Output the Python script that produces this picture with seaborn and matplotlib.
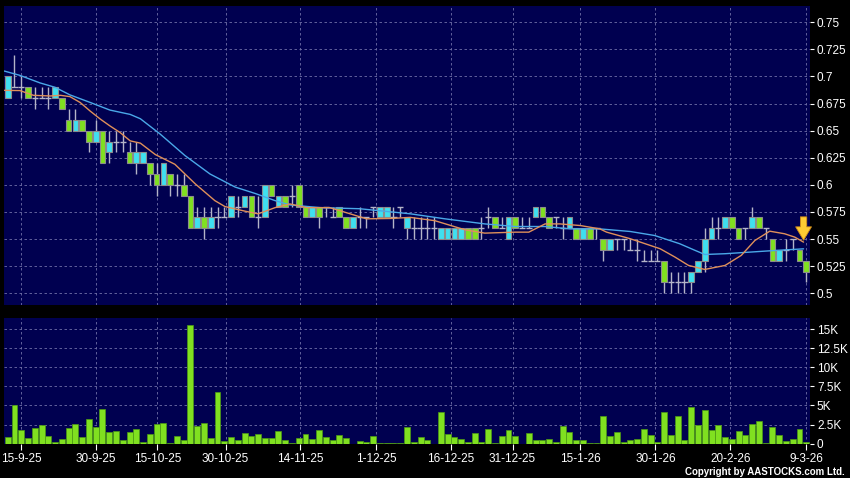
import numpy as np
import pandas as pd
import matplotlib
matplotlib.use('Agg')
import matplotlib.pyplot as plt
import seaborn as sns

# ---- data (bar index 0 = 11-9-25) ----
opens = [
    0.68, 0.69, 0.69, 0.69, 0.68, 0.68, 0.68, 0.68, 0.68, 0.66,
    0.65, 0.66, 0.65, 0.64, 0.65, 0.63, 0.64, 0.64, 0.63, 0.62,
    0.62, 0.62, 0.61, 0.60, 0.61, 0.60, 0.60, 0.59, 0.56, 0.57,
    0.56, 0.57, 0.57, 0.57, 0.58, 0.58, 0.59, 0.57, 0.57, 0.60,
    0.58, 0.59, 0.59, 0.60, 0.58, 0.57, 0.58, 0.58, 0.57, 0.58,
    0.57, 0.56, 0.57, 0.57, 0.58, 0.57, 0.57, 0.57, 0.58, 0.56,
    0.56, 0.56, 0.56, 0.56, 0.55, 0.55, 0.55, 0.55, 0.56, 0.56,
    0.56, 0.57, 0.57, 0.56, 0.55, 0.57, 0.56, 0.56, 0.57, 0.58,
    0.57, 0.57, 0.56, 0.56, 0.56, 0.55, 0.56, 0.56, 0.55, 0.54,
    0.55, 0.55, 0.54, 0.54, 0.53, 0.53, 0.53, 0.53, 0.51, 0.51,
    0.51, 0.51, 0.52, 0.53, 0.55, 0.56, 0.56, 0.57, 0.56, 0.56,
    0.56, 0.57, 0.56, 0.55, 0.53, 0.54, 0.55, 0.54, 0.53,
]
closes = [
    0.70, 0.69, 0.69, 0.68, 0.68, 0.68, 0.68, 0.69, 0.67, 0.65,
    0.66, 0.65, 0.64, 0.65, 0.62, 0.64, 0.64, 0.64, 0.62, 0.63,
    0.63, 0.61, 0.60, 0.62, 0.60, 0.60, 0.59, 0.56, 0.57, 0.56,
    0.57, 0.57, 0.57, 0.59, 0.58, 0.59, 0.57, 0.57, 0.60, 0.59,
    0.59, 0.58, 0.59, 0.58, 0.57, 0.58, 0.57, 0.58, 0.57, 0.57,
    0.56, 0.57, 0.57, 0.57, 0.58, 0.58, 0.58, 0.57, 0.58, 0.57,
    0.56, 0.56, 0.56, 0.56, 0.56, 0.56, 0.56, 0.56, 0.55, 0.55,
    0.56, 0.57, 0.56, 0.56, 0.57, 0.56, 0.56, 0.56, 0.58, 0.57,
    0.56, 0.57, 0.56, 0.57, 0.55, 0.56, 0.55, 0.56, 0.54, 0.55,
    0.55, 0.55, 0.54, 0.54, 0.53, 0.53, 0.53, 0.51, 0.51, 0.51,
    0.51, 0.52, 0.53, 0.55, 0.56, 0.56, 0.57, 0.56, 0.55, 0.56,
    0.57, 0.56, 0.56, 0.53, 0.54, 0.54, 0.55, 0.53, 0.52,
]
highs = [
    0.70, 0.72, 0.70, 0.69, 0.69, 0.69, 0.69, 0.69, 0.68, 0.67,
    0.67, 0.66, 0.65, 0.66, 0.65, 0.65, 0.65, 0.65, 0.64, 0.64,
    0.63, 0.62, 0.62, 0.62, 0.61, 0.61, 0.61, 0.59, 0.58, 0.58,
    0.58, 0.58, 0.58, 0.59, 0.59, 0.59, 0.59, 0.59, 0.60, 0.60,
    0.59, 0.59, 0.60, 0.60, 0.58, 0.58, 0.58, 0.58, 0.58, 0.58,
    0.57, 0.57, 0.58, 0.57, 0.58, 0.58, 0.58, 0.58, 0.58, 0.57,
    0.57, 0.57, 0.57, 0.57, 0.56, 0.56, 0.56, 0.56, 0.56, 0.56,
    0.57, 0.58, 0.57, 0.57, 0.57, 0.57, 0.57, 0.57, 0.58, 0.58,
    0.57, 0.57, 0.57, 0.57, 0.56, 0.56, 0.56, 0.56, 0.55, 0.55,
    0.55, 0.55, 0.55, 0.55, 0.54, 0.54, 0.54, 0.53, 0.52, 0.52,
    0.52, 0.52, 0.53, 0.56, 0.57, 0.57, 0.57, 0.57, 0.56, 0.56,
    0.58, 0.57, 0.56, 0.55, 0.54, 0.55, 0.55, 0.54, 0.53,
]
lows = [
    0.68, 0.69, 0.68, 0.68, 0.67, 0.68, 0.67, 0.68, 0.67, 0.65,
    0.65, 0.65, 0.63, 0.64, 0.62, 0.62, 0.63, 0.63, 0.62, 0.61,
    0.62, 0.60, 0.59, 0.60, 0.59, 0.59, 0.59, 0.56, 0.56, 0.55,
    0.56, 0.56, 0.57, 0.57, 0.57, 0.58, 0.57, 0.56, 0.57, 0.59,
    0.58, 0.58, 0.58, 0.58, 0.57, 0.57, 0.56, 0.57, 0.57, 0.57,
    0.56, 0.56, 0.56, 0.56, 0.57, 0.57, 0.57, 0.56, 0.57, 0.55,
    0.55, 0.55, 0.55, 0.55, 0.55, 0.55, 0.55, 0.55, 0.55, 0.55,
    0.55, 0.56, 0.56, 0.56, 0.55, 0.56, 0.56, 0.56, 0.57, 0.57,
    0.56, 0.56, 0.55, 0.56, 0.55, 0.55, 0.55, 0.55, 0.53, 0.54,
    0.54, 0.54, 0.54, 0.53, 0.53, 0.53, 0.53, 0.50, 0.50, 0.50,
    0.50, 0.50, 0.52, 0.52, 0.55, 0.55, 0.56, 0.56, 0.55, 0.55,
    0.56, 0.56, 0.55, 0.53, 0.53, 0.53, 0.54, 0.53, 0.51,
]
# volume in thousands of shares
volumes = [
    0.87, 5.06, 1.83, 0.78, 2.00, 2.49, 1.00, 0.17, 0.60, 2.00,
    2.53, 0.83, 3.23, 2.22, 4.54, 1.53, 1.66, 0.48, 1.48, 1.96,
    0.17, 1.26, 2.53, 2.70, 0.09, 1.00, 0.48, 15.48, 2.31, 2.75,
    0.70, 6.72, 0.30, 0.92, 0.48, 1.40, 1.05, 1.26, 0.70, 0.70,
    1.61, 0.48, 0.13, 0.74, 1.26, 0.60, 1.83, 0.92, 0.48, 1.09,
    0.74, 0.00, 0.35, 0.20, 1.05, 0.13, 0.04, 0.09, 0.04, 2.22,
    0.17, 0.87, 0.52, 0.00, 4.14, 1.26, 0.87, 0.60, 0.22, 1.40,
    0.22, 1.92, 0.04, 1.00, 1.79, 1.00, 0.00, 1.40, 0.48, 0.48,
    0.60, 0.22, 2.31, 1.57, 0.44, 0.44, 0.13, 0.13, 3.66, 1.00,
    1.53, 0.22, 0.44, 0.60, 1.88, 1.13, 0.17, 4.14, 1.09, 3.66,
    0.48, 4.75, 2.49, 4.40, 1.83, 2.44, 0.83, 0.65, 1.61, 1.13,
    2.53, 2.92, 0.13, 2.22, 1.09, 0.35, 0.57, 1.96, 0.26,
]

# moving average lines, sampled along the bar index
ma_short_x = [-0.5, 1.8, 3.8, 6.3, 7.8, 9.2, 10.7, 12.2, 13.7, 15.1,
              16.6, 18.1, 19.6, 21.8, 24.7, 27.7, 30.6, 32.1, 35.1, 37,
              39.5, 41.7, 44.2, 47.6, 50.6, 53, 56.5, 59.5, 63.1, 67.6,
              70.5, 75, 77, 79.4, 81.6, 84.6, 87.5, 88.5, 92, 94.2,
              96.4, 98.6, 100.6, 103, 106, 108.4, 110.4, 112.6, 114.8, 116.3,
              117.6]
ma_short_y = [0.6872, 0.687, 0.6826, 0.682, 0.6826, 0.6814, 0.676, 0.668, 0.6606, 0.6544,
              0.6483, 0.6406, 0.6385, 0.628, 0.619, 0.601, 0.5855, 0.58, 0.5757, 0.5733,
              0.579, 0.5824, 0.579, 0.579, 0.5733, 0.5687, 0.569, 0.570, 0.567, 0.5585,
              0.5555, 0.5564, 0.5564, 0.564, 0.564, 0.5625, 0.5594, 0.5564, 0.5503, 0.5457,
              0.5411, 0.5334, 0.5257, 0.522, 0.5257, 0.535, 0.5487, 0.5573, 0.5549, 0.5518,
              0.5472]
ma_long_x = [-0.5, 1.8, 4.8, 7, 9.2, 12.2, 15.1, 18.1, 19.6, 22.5,
             26.2, 29.9, 33.6, 36.6, 39.5, 41.7, 46.2, 52, 59.5, 64.6,
             70.5, 75, 79.4, 83.1, 87.5, 92, 95.6, 99.3, 101.6, 103,
             106, 109.7, 113.4, 117.6]
ma_long_y = [0.705, 0.701, 0.694, 0.690, 0.683, 0.676, 0.669, 0.665, 0.661, 0.647,
             0.627, 0.610, 0.598, 0.592, 0.5855, 0.5815, 0.579, 0.578, 0.5733, 0.5687,
             0.564, 0.5616, 0.5616, 0.5594, 0.5594, 0.557, 0.5533, 0.5457, 0.5395, 0.5358,
             0.5365, 0.538, 0.5395, 0.541]

date_labels = ['15-9-25', '30-9-25', '15-10-25', '30-10-25', '14-11-25', '1-12-25',
               '16-12-25', '31-12-25', '15-1-26', '30-1-26', '20-2-26', '9-3-26']
date_pos = [2.0, 13.0, 22.1, 32.2, 43.2, 54.4, 65.5, 74.6, 84.6, 95.7, 106.8, 118.0]

price_ticks = [0.5, 0.525, 0.55, 0.575, 0.6, 0.625, 0.65, 0.675, 0.7, 0.725, 0.75]
vol_ticks = [0, 2.5, 5, 7.5, 10, 12.5, 15]

# ---- style ----
BG = '#000050'
UP = '#3fe0f0'
DOWN = '#80e020'
WICK = '#b4b4c8'
GRID = '#7070a8'

sns.set_theme(style='dark')
plt.rcParams['font.family'] = ['Liberation Sans', 'DejaVu Sans']

df = pd.DataFrame({'open': opens, 'high': highs, 'low': lows,
                   'close': closes, 'volume': volumes})
df['idx'] = np.arange(len(df))

fig = plt.figure(figsize=(8.5, 4.78), dpi=100, facecolor='black')
ax = fig.add_axes([4 / 850, 1 - 305 / 478, 806 / 850, 299 / 478])
axv = fig.add_axes([4 / 850, 1 - 443.7 / 478, 806 / 850, 125.4 / 478])

for a in (ax, axv):
    a.set_facecolor(BG)
    for s in a.spines.values():
        s.set_visible(False)

# candles
ax.vlines(df['idx'], df['low'], df['high'], color=WICK, lw=1, zorder=2)
body = df[df['open'] != df['close']]
colors = np.where(body['close'] > body['open'], UP, DOWN)
ax.bar(body['idx'], (body['close'] - body['open']).abs(),
       bottom=body[['open', 'close']].min(axis=1), width=0.84,
       color=colors, edgecolor='#8c8c8c', linewidth=0.8, zorder=3)
doji = df[df['open'] == df['close']]
ax.hlines(doji['close'], doji['idx'] - 0.45, doji['idx'] + 0.45,
          color=WICK, lw=1, zorder=2)

# moving averages
sns.lineplot(x=ma_long_x, y=ma_long_y, ax=ax, color='#4aa8e8', lw=1, zorder=4)
sns.lineplot(x=ma_short_x, y=ma_short_y, ax=ax, color='#e0905a', lw=1, zorder=4)

# arrow marker at the last bar
ax.annotate('', xy=(117.6, 0.549), xytext=(117.6, 0.5705),
            arrowprops=dict(arrowstyle='simple,head_length=0.8,head_width=0.95,tail_width=0.38',
                            fc='#ffcc33', ec='#d08a18', lw=0.6,
                            shrinkA=0, shrinkB=0), zorder=6)

# volume
sns.barplot(x=df['idx'], y=df['volume'], ax=axv, native_scale=True,
            color=DOWN, saturation=1, width=0.88, errorbar=None,
            edgecolor='#4c9a14', linewidth=0.5, zorder=3)

# axes
xlim = (-0.55, 118.55)
ax.set_xlim(xlim)
axv.set_xlim(xlim)
ax.set_ylim(0.4892, 0.765)
axv.set_ylim(0, 16.4)

for a in (ax, axv):
    a.set_xticks(date_pos)
    a.yaxis.tick_right()
    a.grid(True, color=GRID, lw=0.6, linestyle=(0, (3, 3)), zorder=1)
    a.set_axisbelow(True)
    a.set_xlabel('')
    a.set_ylabel('')
    a.tick_params(axis='y', colors='white', labelsize=8.5, length=3,
                  width=0.8, pad=2, right=True, left=False)

ax.set_xticklabels([])
ax.tick_params(axis='x', length=0)
axv.set_xticklabels(date_labels)
axv.tick_params(axis='x', colors='white', labelsize=8.5, length=4,
                width=0.8, pad=3, bottom=True)

ax.set_yticks(price_ticks)
ax.set_yticklabels([f'{v:g}' for v in price_ticks])
axv.set_yticks(vol_ticks)
axv.set_yticklabels(['0' if v == 0 else f'{v:g}K' for v in vol_ticks])

fig.text(0.994, 1 - 472 / 478, 'Copyright by AASTOCKS.com Ltd.', color='white',
         fontsize=7, ha='right', va='center', fontweight='bold')

fig.savefig('out.png', dpi=100, facecolor='black')
